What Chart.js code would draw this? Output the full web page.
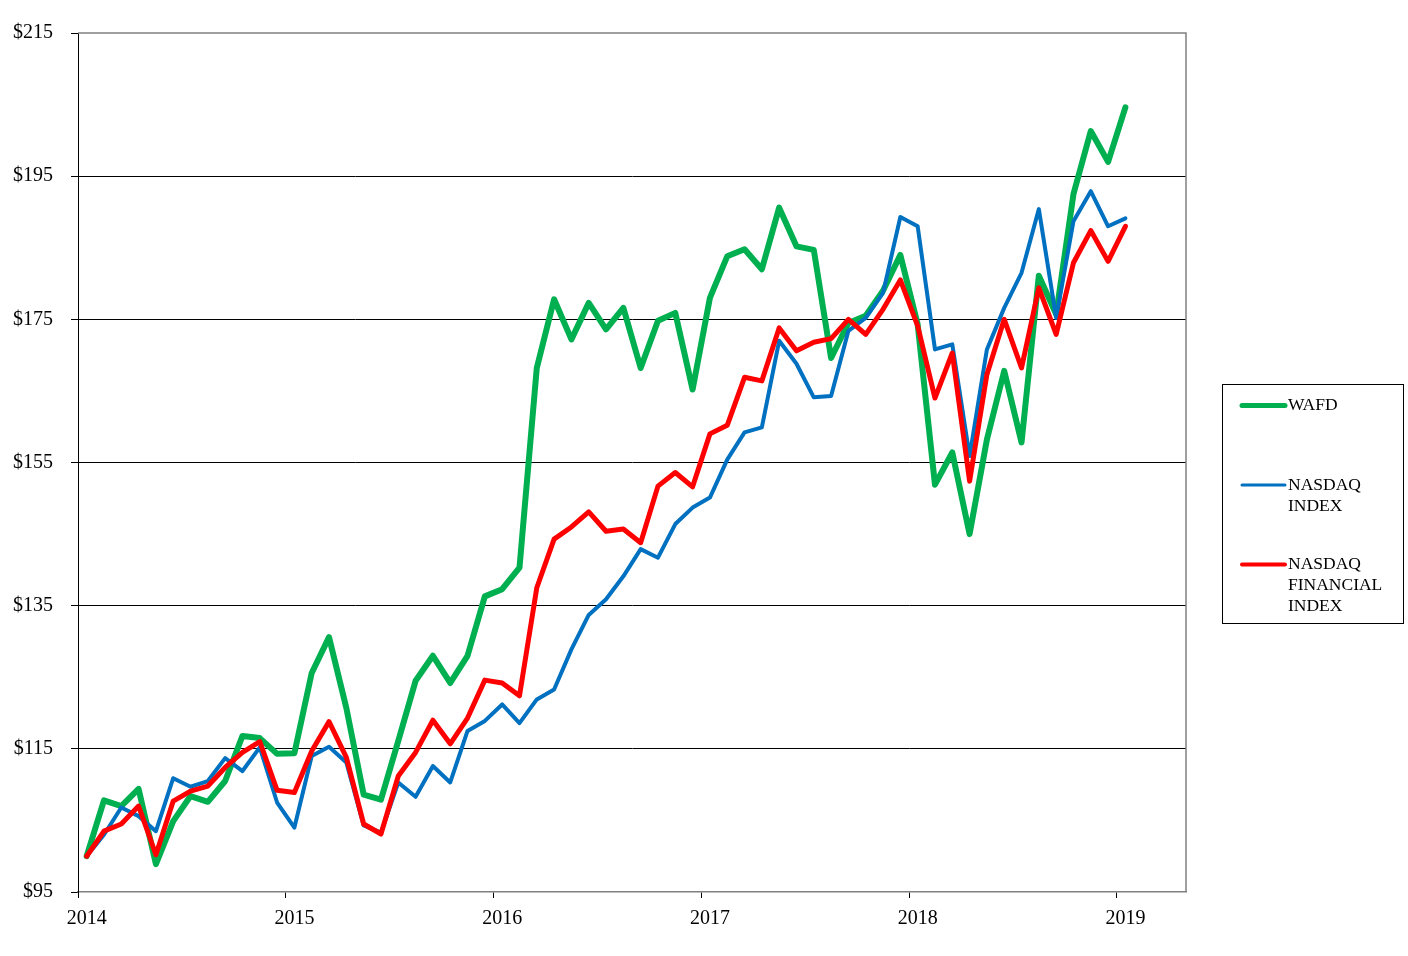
<!DOCTYPE html>
<html>
<head>
<meta charset="utf-8">
<script src="https://cdn.jsdelivr.net/npm/chart.js@4/dist/chart.umd.min.js"></script>
<style>
  body { margin: 0; background: #fff; }
  #wrap { width: 1408px; height: 956px; }
</style>
</head>
<body>
<div id="wrap"><canvas id="returns" width="1408" height="956"></canvas></div>
<script>
// tick labels on the x axis, one per year
var years = ['2014', '2015', '2016', '2017', '2018', '2019'];

// month slots of the date axis (axis runs a few months past the last point)
var months = [];
for (var y = 0; y < years.length; y++) {
    for (var m = 1; m <= 12 && months.length < 64; m++) {
        months.push(years[y] + '-' + (m < 10 ? '0' + m : m));
    }
}

var seriesNames = ['WAFD', 'NASDAQ\nINDEX', 'NASDAQ\nFINANCIAL\nINDEX'];

var wafd = [
    100, 107.8, 107.0, 109.4, 98.9, 104.9, 108.4, 107.6, 110.5, 116.8, 116.5, 114.3,
    114.4, 125.6, 130.6, 120.7, 108.6, 107.9, 116.1, 124.5, 128.0, 124.2, 128.0, 136.3,
    137.3, 140.3, 168.2, 177.8, 172.2, 177.3, 173.6, 176.6, 168.2, 174.8, 175.9, 165.2,
    178.0, 183.8, 184.8, 182.0, 190.6, 185.2, 184.7, 169.6, 174.5, 175.5, 179.0, 184.0,
    174.3, 151.9, 156.4, 145.0, 158.2, 167.8, 157.8, 181.1, 175.7, 192.5, 201.3, 197.0,
    204.6
];

var nasdaq = [
    100, 103.0, 106.8, 105.6, 103.5, 110.9, 109.7, 110.5, 113.7, 111.9, 115.2, 107.5,
    104.0, 114.0, 115.3, 113.1, 104.3, 103.3, 110.3, 108.3, 112.6, 110.3, 117.5, 118.9,
    121.2, 118.6, 121.9, 123.3, 128.9, 133.7, 135.9, 139.1, 142.9, 141.7, 146.4, 148.7,
    150.1, 155.4, 159.2, 159.9, 172.0, 168.8, 164.1, 164.3, 173.4, 175.2, 178.7, 189.3,
    188.0, 170.8, 171.5, 155.9, 170.8, 176.6, 181.5, 190.4, 175.2, 188.7, 192.9, 188.0,
    189.1
];

var nasdaqFin = [
    100, 103.5, 104.5, 107.0, 100.2, 107.7, 109.1, 109.8, 112.4, 114.5, 116.0, 109.2,
    108.9, 114.7, 118.8, 113.8, 104.5, 103.1, 111.2, 114.5, 119.0, 115.7, 119.3, 124.6,
    124.2, 122.4, 137.5, 144.3, 146.0, 148.1, 145.4, 145.7, 143.8, 151.7, 153.6, 151.6,
    159.0, 160.2, 166.9, 166.4, 173.8, 170.6, 171.8, 172.3, 175.0, 172.9, 176.4, 180.5,
    174.1, 164.0, 170.3, 152.4, 167.3, 175.0, 168.2, 179.4, 172.9, 182.9, 187.4, 183.1,
    188.0
];

var yTicks = [95, 115, 135, 155, 175, 195, 215];

var serif = '"Liberation Serif", "Times New Roman", serif';

// plot frame: grey top and right edges
var framePlugin = {
    id: 'frame',
    beforeDatasetsDraw: function (chart) {
        var a = chart.chartArea, c = chart.ctx;
        c.save();
        c.strokeStyle = '#808080';
        c.lineWidth = 1.5;
        c.beginPath();
        c.moveTo(a.left, a.top);
        c.lineTo(a.right, a.top);
        c.lineTo(a.right, a.bottom);
        c.stroke();
        c.restore();
    }
};

// boxed legend on the right with wrapped names
var legendPlugin = {
    id: 'boxLegend',
    afterDraw: function (chart) {
        var c = chart.ctx;
        var left = chart.chartArea.right + 36, top = 384, w = 181, h = 239;
        c.save();
        c.strokeStyle = '#000';
        c.lineWidth = 1;
        c.strokeRect(left + 0.5, top + 0.5, w, h);
        c.font = '17.5px ' + serif;
        c.fillStyle = '#000';
        c.textBaseline = 'middle';
        chart.data.datasets.forEach(function (ds, i) {
            var yy = top + 21.5 + i * 79.5;
            c.strokeStyle = ds.borderColor;
            c.lineWidth = ds.borderWidth - 1;
            c.lineCap = 'round';
            c.beginPath();
            c.moveTo(left + 20, yy);
            c.lineTo(left + 63, yy);
            c.stroke();
            seriesNames[i].split('\n').forEach(function (line, k) {
                c.fillText(line, left + 66, yy + k * 21);
            });
        });
        c.restore();
    }
};

var ctx = document.getElementById('returns').getContext('2d');
var chart = new Chart(ctx, {
    type: 'line',
    data: {
        labels: months,
        datasets: [{
            label: 'WAFD',
            data: wafd,
            borderColor: '#00B050',
            borderWidth: 6,
            order: 2
        }, {
            label: 'NASDAQ INDEX',
            data: nasdaq,
            borderColor: '#0070C0',
            borderWidth: 4,
            order: 1
        }, {
            label: 'NASDAQ FINANCIAL INDEX',
            data: nasdaqFin,
            borderColor: '#FF0000',
            borderWidth: 5,
            order: 0
        }]
    },
    options: {
        responsive: false,
        animation: false,
        layout: { padding: { left: 0, top: 33, right: 222, bottom: 0 } },
        elements: {
            point: { radius: 0 },
            line: { tension: 0, fill: false, borderJoinStyle: 'round', borderCapStyle: 'round' }
        },
        plugins: {
            legend: { display: false },
            tooltip: { enabled: false }
        },
        scales: {
            x: {
                type: 'category',
                offset: true,
                afterFit: function (s) { s.height = 64; },
                grid: {
                    offset: true,
                    drawOnChartArea: false,
                    tickLength: 6,
                    tickColor: function (c) { return c.index % 12 === 0 ? '#000' : 'rgba(0,0,0,0)'; }
                },
                border: { color: '#808080', width: 1.5 },
                ticks: {
                    autoSkip: false,
                    maxRotation: 0,
                    padding: 9,
                    color: '#000',
                    font: { family: serif, size: 20 },
                    callback: function (v, i) {
                        return i % 12 === 0 ? years[i / 12] : '';
                    }
                }
            },
            y: {
                min: 95,
                max: 215,
                afterFit: function (s) { s.width = 78; },
                afterBuildTicks: function (s) {
                    s.ticks = yTicks.map(function (v) { return { value: v }; });
                },
                grid: {
                    color: function (c) {
                        return (c.tick && (c.tick.value === 95 || c.tick.value === 215)) ? 'rgba(0,0,0,0)' : '#000';
                    },
                    lineWidth: 1,
                    tickLength: 7,
                    tickColor: '#000'
                },
                border: { color: '#000', width: 1 },
                ticks: {
                    padding: 18,
                    color: '#000',
                    font: { family: serif, size: 20 },
                    callback: function (v) { return '$' + v; }
                }
            }
        }
    },
    plugins: [framePlugin, legendPlugin]
});
</script>
</body>
</html>
